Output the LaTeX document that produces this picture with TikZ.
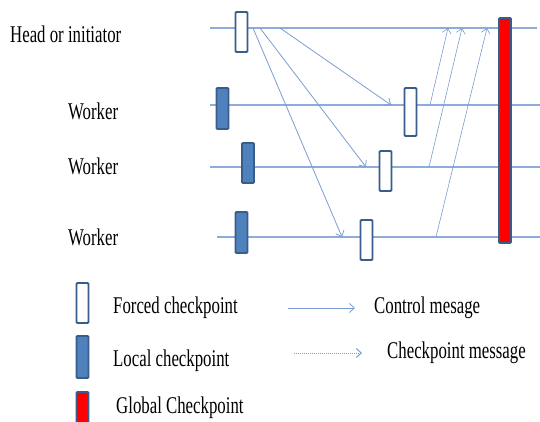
\documentclass[tikz,border=0pt]{standalone}
\usepackage{fontspec}
\setmainfont[FakeStretch=0.7]{Liberation Serif}
\usetikzlibrary{arrows.meta}
\definecolor{tl}{HTML}{8EACDB}
\definecolor{bd}{HTML}{385D8A}
\definecolor{lf}{HTML}{4F81BD}
\definecolor{ar}{HTML}{7A9DD2}
\tikzset{
  tline/.style={draw=tl, line width=1.6pt},
  cpbox/.style={draw=bd, line width=1.8pt, rounded corners=1pt, minimum width=12pt, inner sep=0pt},
  forced/.style={cpbox, fill=white},
  localcp/.style={cpbox, fill=lf},
  globalcp/.style={cpbox, fill=red},
  ctrl/.style={draw=ar, line width=0.8pt, -{Straight Barb[length=5pt,width=9pt]}},
  ckmsg/.style={draw=ar, line width=1pt, densely dotted, -{Straight Barb[length=5pt,width=9pt]}},
  ckmsgd/.style={draw=ar, line width=0.6pt, -{Straight Barb[length=5pt,width=9pt]}},
  lbl/.style={font=\fontsize{24}{28}\selectfont, inner sep=0pt, anchor=base west},
}
\begin{document}
\begin{tikzpicture}[x=1pt,y=-1pt]
\useasboundingbox (0,0) rectangle (540,422);
\clip (0,0) rectangle (540,422);
% timelines
\coordinate (h0) at (210,28); \coordinate (h1) at (537,28);
\coordinate (a0) at (210,105); \coordinate (a1) at (540,105);
\coordinate (b0) at (210,167); \coordinate (b1) at (540,167);
\coordinate (c0) at (217,237); \coordinate (c1) at (540,237);
\draw[tline] (h0) -- (h1);
\draw[tline] (a0) -- (a1);
\draw[tline] (b0) -- (b1);
\draw[tline] (c0) -- (c1);
% labels
\node[lbl] (lh) at (10,43) {Head or initiator};
\node[lbl] (la) at (68,120) {Worker};
\node[lbl] (lb) at (68,175) {Worker};
\node[lbl] (lc) at (68,245) {Worker};
% checkpoints
\node[forced, minimum height=40pt] (fh) at (241.5,32) {};
\node[localcp, minimum height=41pt] (la1) at (222.5,108.5) {};
\node[forced, minimum height=48pt] (fa) at (410.5,112) {};
\node[localcp, minimum height=40pt] (lb1) at (248,163) {};
\node[forced, minimum height=40pt] (fb) at (385.5,171) {};
\node[localcp, minimum height=41pt] (lc1) at (241.5,232.5) {};
\node[forced, minimum height=40pt] (fc) at (366.5,240) {};
\node[globalcp, minimum height=225pt] (g) at (505,130.5) {};
% control messages
\coordinate (s1) at (280,28); \coordinate (t1) at (391,105);
\coordinate (s2) at (260,28); \coordinate (t2) at (366,167);
\coordinate (s3) at (253,28); \coordinate (t3) at (342,237);
\draw[ctrl] (s1) -- (t1);
\draw[ctrl] (s2) -- (t2);
\draw[ctrl] (s3) -- (t3);
% checkpoint messages
\coordinate (u1) at (430,105); \coordinate (v1) at (448,28);
\coordinate (u2) at (429,167); \coordinate (v2) at (462,28);
\coordinate (u3) at (436,237); \coordinate (v3) at (487,28);
\draw[ckmsgd] (u1) -- (v1);
\draw[ckmsgd] (u2) -- (v2);
\draw[ckmsgd] (u3) -- (v3);
% legend
\node[forced, minimum height=40pt] (kf) at (82.5,303) {};
\node[localcp, minimum height=42pt] (kl) at (82.5,357) {};
\node[globalcp, minimum height=45pt] (kg) at (82.5,414.5) {};
\node[lbl] (tf) at (113,313) {Forced checkpoint};
\node[lbl] (tlc) at (113,366) {Local checkpoint};
\node[lbl] (tg) at (116,413) {Global Checkpoint};
\coordinate (ca0) at (288,308); \coordinate (ca1) at (355,308);
\draw[ctrl] (ca0) -- (ca1);
\node[lbl] (tc) at (374,313) {Control mesage};
\coordinate (cb0) at (294,353); \coordinate (cb1) at (362,353);
\draw[ckmsg] (cb0) -- (cb1);
\node[lbl] (tm) at (387,358) {Checkpoint message};
\end{tikzpicture}
\end{document}
